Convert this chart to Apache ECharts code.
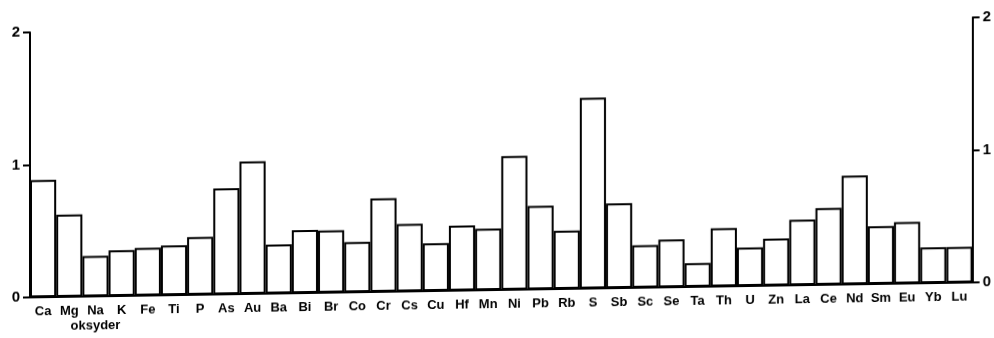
<!DOCTYPE html>
<html>
<head>
<meta charset="utf-8">
<script src="https://cdn.jsdelivr.net/npm/echarts@6/dist/echarts.min.js"></script>
<style>
  html, body { margin: 0; padding: 0; background: #fff; }
  /* the scanned figure is slightly tilted: baseline rises to the right */
  #chart { width: 994px; height: 338px; transform: skewY(-0.91deg); }
</style>
</head>
<body>
<div id="chart"></div>
<script>
// elements on the x axis
const elements = ['Ca', 'Mg', 'Na', 'K', 'Fe', 'Ti', 'P', 'As', 'Au', 'Ba', 'Bi', 'Br',
  'Co', 'Cr', 'Cs', 'Cu', 'Hf', 'Mn', 'Ni', 'Pb', 'Rb', 'S', 'Sb', 'Sc', 'Se', 'Ta',
  'Th', 'U', 'Zn', 'La', 'Ce', 'Nd', 'Sm', 'Eu', 'Yb', 'Lu'];

// bar heights
const ratio = [0.885, 0.62, 0.305, 0.345, 0.36, 0.375, 0.435, 0.80, 1.0, 0.37, 0.475, 0.47,
  0.38, 0.705, 0.51, 0.36, 0.49, 0.465, 1.01, 0.63, 0.44, 1.44, 0.64, 0.32, 0.36, 0.18,
  0.44, 0.29, 0.355, 0.495, 0.58, 0.82, 0.435, 0.465, 0.27, 0.27];

const yTicks = [0, 1, 2];
const groupNote = { Na: 'oksyder' }; // second line under the oxide group

const font = '"Liberation Sans", Arial, sans-serif';

const yAxisBase = (pos) => ({
  type: 'value',
  position: pos,
  min: yTicks[0],
  max: yTicks[yTicks.length - 1],
  interval: 1,
  splitLine: { show: false },
  axisLine: { show: true, lineStyle: { color: '#000', width: 2 } },
  axisTick: { show: true, length: 7, lineStyle: { color: '#000', width: 2 } },
  axisLabel: {
    color: '#000',
    fontFamily: font,
    fontWeight: 'bold',
    fontSize: 15,
    margin: 10
  }
});

let chart = echarts.init(document.getElementById('chart'));
let option = {
  backgroundColor: '#fff',
  animation: false,
  grid: { left: 30, right: 19, top: 25, bottom: 48, containLabel: false },
  xAxis: {
    type: 'category',
    data: elements,
    axisLine: { show: true, lineStyle: { color: '#000', width: 2 } },
    axisTick: { show: false },
    axisLabel: {
      interval: 0,
      color: '#000',
      fontFamily: font,
      fontWeight: 'bold',
      fontSize: 13,
      lineHeight: 15,
      margin: 7,
      formatter: (v) => groupNote[v] ? v + '\n' + groupNote[v] : v
    }
  },
  yAxis: [yAxisBase('left'), yAxisBase('right')],
  series: [{
    type: 'bar',
    data: ratio,
    yAxisIndex: 0,
    barCategoryGap: '0%',
    itemStyle: { color: '#fff', borderColor: '#000', borderWidth: 2 }
  }]
};
chart.setOption(option);
</script>
</body>
</html>
